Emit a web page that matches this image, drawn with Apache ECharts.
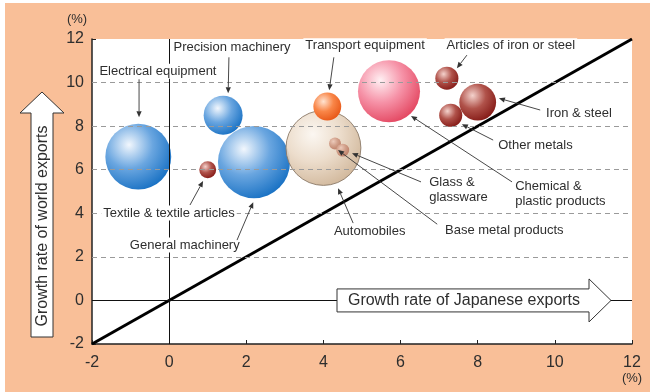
<!DOCTYPE html>
<html>
<head>
<meta charset="utf-8">
<script src="https://cdn.jsdelivr.net/npm/echarts@6/dist/echarts.min.js"></script>
<style>
  html, body { margin: 0; padding: 0; background: #fff; }
  #chart { width: 652px; height: 392px; }
</style>
</head>
<body>
<div id="chart"></div>
<script>
// growth rates (%), bubble weight ~ export value
const products = ['Electrical equipment', 'Precision machinery', 'General machinery', 'Textile & textile articles',
  'Automobiles', 'Glass & glassware', 'Base metal products', 'Transport equipment',
  'Chemical & plastic products', 'Articles of iron or steel', 'Iron & steel', 'Other metals']
const japanGrowth = [-0.8, 1.4, 2.2, 1.0, 4.0, 4.3, 4.5, 4.1, 5.7, 7.2, 8.0, 7.3]
const worldGrowth = [6.6, 8.5, 6.35, 6.0, 7.0, 7.2, 6.9, 8.9, 9.6, 10.2, 9.1, 8.5]
const exportWeight = [106, 37, 127, 7, 137, 3.5, 4.1, 19, 94, 13, 33, 13]
const tone = ['blue', 'blue', 'blue', 'brown', 'beige', 'faded', 'faded', 'orange', 'pink', 'brown', 'brown', 'brown']
const axisRange = [-2, 12]
const gridValues = [2, 4, 6, 8, 10]

const font = 'Liberation Sans, Arial, sans-serif'
const ink = '#2e2e2e'

const palette = {
  blue:   ['#f2f7fd', '#6aa6e0', '#1a72c4'],
  pink:   ['#fff0f3', '#f693a8', '#e44862'],
  orange: ['#ffe3d0', '#f98648', '#e85818'],
  brown:  ['#f4d2cc', '#b0524a', '#861c18'],
  faded:  ['#ecc8b8', '#cf9a84', '#b8765e'],
  beige:  ['#fbf6f0', '#ead9c6', '#cdb192']
}

function ball(c) {
  return new echarts.graphic.RadialGradient(0.36, 0.32, 0.72, [
    { offset: 0, color: c[0] },
    { offset: 0.5, color: c[1] },
    { offset: 1, color: c[2] }
  ])
}

// label anchor and leader arrows, in data units
const notes = [
  { text: 'Electrical equipment', at: [-0.29, 10.52], align: 'center', from: [-0.78, 10.15], to: [-0.78, 8.41] },
  { text: 'Precision machinery', at: [1.63, 11.6], align: 'center', from: [1.55, 11.16], to: [1.53, 9.51] },
  { text: 'Transport equipment', at: [5.08, 11.69], align: 'center', from: [4.27, 11.16], to: [4.15, 9.65] },
  { text: 'Articles of iron or steel', at: [8.86, 11.69], align: 'center', from: [7.72, 11.26], to: [7.46, 10.66] },
  { text: 'Iron & steel', at: [9.72, 8.6], align: 'left', from: [9.62, 8.74], to: [8.55, 9.28] },
  { text: 'Other metals', at: [8.48, 7.13], align: 'left', from: [8.4, 7.36], to: [7.59, 8.09] },
  { text: 'Chemical &\nplastic products', at: [8.92, 4.88], align: 'left', from: [8.89, 5.44], to: [6.27, 8.47] },
  { text: 'Glass &\nglassware', at: [6.69, 5.06], align: 'left', from: [6.53, 5.44], to: [4.74, 6.76] },
  { text: 'Base metal products', at: [7.1, 3.23], align: 'left', from: [6.95, 3.5], to: [4.38, 6.9] },
  { text: 'Automobiles', at: [4.22, 3.18], align: 'left', from: [4.77, 3.55], to: [4.38, 5.15] },
  { text: 'Textile & textile articles', at: [-1.76, 4.01], align: 'left', from: [0.54, 4.38], to: [0.88, 5.48] },
  { text: 'General machinery', at: [-1.07, 2.54], align: 'left', from: [1.76, 2.77], to: [2.18, 4.51] }
]

const chart = echarts.init(document.getElementById('chart'))

chart.setOption({
  animation: false,
  grid: { left: 92, top: 39, right: 20, bottom: 48, show: true, backgroundColor: '#fff', borderWidth: 0 },
  xAxis: {
    type: 'value', min: axisRange[0], max: axisRange[1], interval: 2,
    axisLine: { onZero: false, lineStyle: { color: '#222', width: 1.5 } },
    axisTick: { inside: true, length: 4, lineStyle: { color: '#222' } },
    axisLabel: { color: ink, fontSize: 16, fontFamily: font, margin: 11 },
    splitLine: { show: false }
  },
  yAxis: {
    type: 'value', min: axisRange[0], max: axisRange[1], interval: 2,
    axisLine: { show: true, onZero: false, lineStyle: { color: '#222', width: 1.5 } },
    axisTick: { show: true, inside: true, length: 4, lineStyle: { color: '#222' } },
    axisLabel: { color: ink, fontSize: 16, fontFamily: font, margin: 8 },
    splitLine: { show: false }
  },
  series: [
    {
      type: 'scatter', data: [], z: 1, silent: true,
      markLine: {
        silent: true, symbol: 'none', label: { show: false }, animation: false,
        data: gridValues.map(v => ({ yAxis: v, lineStyle: { color: '#9a9a9a', type: [5, 4], width: 1 } }))
          .concat([
            { yAxis: 0, lineStyle: { color: '#111', type: 'solid', width: 1 } },
            { xAxis: 0, lineStyle: { color: '#111', type: 'solid', width: 1 } }
          ])
      }
    },
    {
      type: 'scatter', z: 2,
      symbolSize: v => 6.4 * Math.sqrt(v[2]),
      data: products.map((n, i) => ({
        name: n,
        value: [japanGrowth[i], worldGrowth[i], exportWeight[i]],
        itemStyle: tone[i] === 'beige'
          ? { color: ball(palette.beige), opacity: 0.9, borderColor: '#8c7a68', borderWidth: 1 }
          : { color: ball(palette[tone[i]]), opacity: tone[i] === 'faded' ? 0.9 : 1 }
      }))
    },
    {
      type: 'line', z: 3, symbol: 'none', silent: true,
      data: axisRange.map(v => [v, v]),
      lineStyle: { color: '#000', width: 3 }
    }
  ]
})

const px = p => chart.convertToPixel({ gridIndex: 0 }, p)

function arrow(a, b) {
  const dx = b[0] - a[0], dy = b[1] - a[1]
  const len = Math.sqrt(dx * dx + dy * dy)
  const ux = dx / len, uy = dy / len
  const bx = b[0] - ux * 6, by = b[1] - uy * 6
  return [
    { type: 'line', z: 60, shape: { x1: a[0], y1: a[1], x2: bx, y2: by }, style: { stroke: '#333', lineWidth: 0.9 } },
    { type: 'polygon', z: 60, shape: { points: [b, [bx - uy * 2.6, by + ux * 2.6], [bx + uy * 2.6, by - ux * 2.6]] }, style: { fill: '#333' } }
  ]
}

const zero = px([0, 0])
const graphics = [
  { type: 'rect', z: -10, shape: { x: 5, y: 3, width: 645, height: 389 }, style: { fill: '#f9bf98' } },
  { type: 'text', z: 50, x: 77, y: 19, style: { text: '(%)', font: '13px ' + font, fill: ink, align: 'center', verticalAlign: 'middle' } },
  { type: 'text', z: 50, x: 632, y: 378, style: { text: '(%)', font: '13px ' + font, fill: ink, align: 'center', verticalAlign: 'middle' } },
  // y title arrow
  { type: 'polygon', z: 50, shape: { points: [[42, 92], [64, 113], [53, 113], [53, 337], [31, 337], [31, 113], [20, 113]] },
    style: { fill: '#fff', stroke: '#333', lineWidth: 1 } },
  { type: 'text', z: 51, x: 43, y: 226, rotation: Math.PI / 2,
    style: { text: 'Growth rate of world exports', font: '16px ' + font, fill: ink, align: 'center', verticalAlign: 'middle' } },
  // x title arrow
  { type: 'polygon', z: 50, shape: { points: [[337, zero[1] - 11.5], [589, zero[1] - 11.5], [589, zero[1] - 21.5], [611, zero[1]],
      [589, zero[1] + 21.5], [589, zero[1] + 11.5], [337, zero[1] + 11.5]] },
    style: { fill: '#fff', stroke: '#333', lineWidth: 1 } },
  { type: 'text', z: 51, x: 464, y: zero[1], style: { text: 'Growth rate of Japanese exports', font: '16px ' + font, fill: ink, align: 'center', verticalAlign: 'middle' } }
]

notes.forEach(n => {
  const p = px(n.at)
  graphics.push({
    type: 'text', z: 55, x: p[0], y: p[1],
    style: { text: n.text, font: '13px ' + font, fill: ink, align: n.align, verticalAlign: 'middle', lineHeight: 15,
      backgroundColor: '#fff', padding: [0, 2] }
  })
  graphics.push(...arrow(px(n.from), px(n.to)))
})

chart.setOption({ graphic: graphics })
</script>
</body>
</html>
